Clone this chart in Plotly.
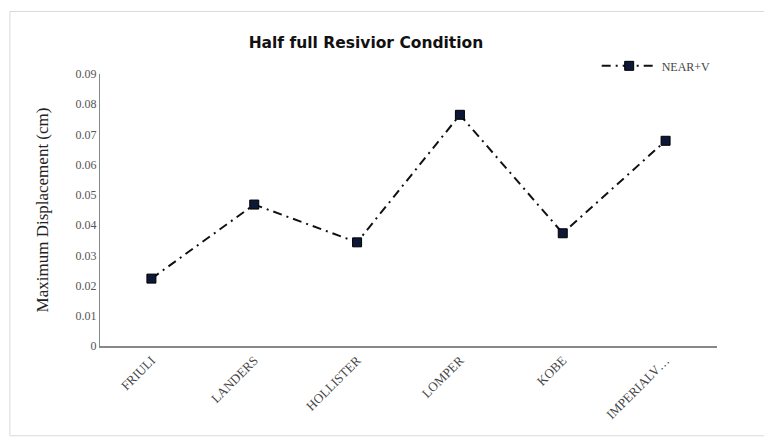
import plotly.graph_objects as go

categories = ["FRIULI", "LANDERS", "HOLLISTER", "LOMPER", "KOBE", "IMPERIALV…"]
near_v = [0.0223, 0.0468, 0.0343, 0.0765, 0.0373, 0.0679]
y_tick_vals = [0, 0.01, 0.02, 0.03, 0.04, 0.05, 0.06, 0.07, 0.08, 0.09]
y_tick_text = ["0", "0.01", "0.02", "0.03", "0.04", "0.05", "0.06", "0.07", "0.08", "0.09"]

fig = go.Figure()
fig.add_trace(go.Scatter(
    x=categories, y=near_v, name="NEAR+V",
    mode="lines+markers",
    line=dict(color="#111111", width=2, dash="9px,5px,2px,5px"),
    marker=dict(symbol="square", size=9, color="#0d1736",
                line=dict(color="#000000", width=1)),
))

fig.update_layout(
    width=764, height=437,
    margin=dict(l=100, r=47, t=74, b=91),
    paper_bgcolor="white", plot_bgcolor="white",
    title=dict(text="<b>Half full Resivior Condition</b>",
               x=0.479, xanchor="center", y=0.902, yanchor="middle",
               font=dict(family="DejaVu Sans", size=15.5, color="#111111")),
    showlegend=True,
    legend=dict(x=0.805, y=1.03, xanchor="left", yanchor="middle",
                itemwidth=55,
                font=dict(family="Liberation Serif, Times New Roman", size=12, color="#444444"),
                bgcolor="rgba(0,0,0,0)"),
    xaxis=dict(
        type="category",
        range=[-0.5, 5.5],
        showline=True, linecolor="#888888", linewidth=1.5,
        showgrid=False, ticks="", tickangle=-45,
        tickfont=dict(family="Liberation Serif, Times New Roman", size=13, color="#444444"),
    ),
    yaxis=dict(
        range=[0, 0.09],
        tickvals=y_tick_vals, ticktext=y_tick_text,
        showline=True, linecolor="#888888", linewidth=1.2,
        showgrid=False, zeroline=False, ticks="",
        tickfont=dict(family="Liberation Serif, Times New Roman", size=12, color="#555555"),
        title=dict(text="Maximum Displacement (cm)",
                   font=dict(family="Liberation Serif, Times New Roman", size=17, color="#222222"),
                   standoff=22),
    ),
    shapes=[dict(type="rect", xref="paper", yref="paper",
                 x0=-0.146, x1=1.1, y0=-0.33, y1=1.23,
                 line=dict(color="#d9d9d9", width=1))],
)

fig.write_html("out.html")
